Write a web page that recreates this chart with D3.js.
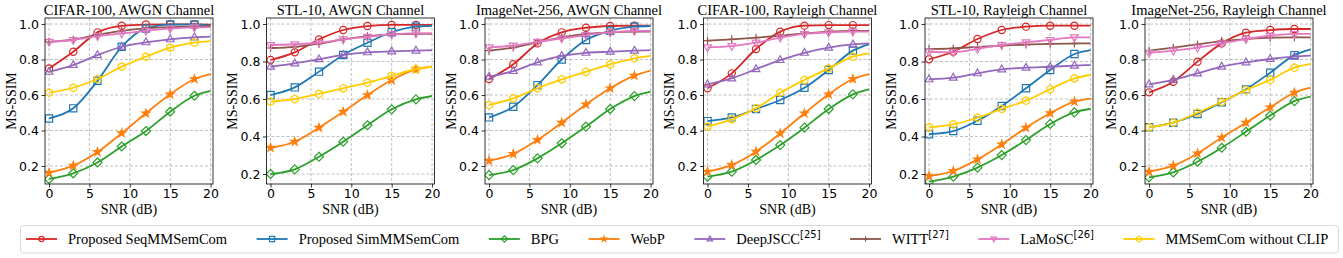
<!DOCTYPE html>
<html><head><meta charset="utf-8">
<script src="https://cdn.jsdelivr.net/npm/d3@7"></script>
<style>
html,body{margin:0;padding:0;background:#fff;}
svg{display:block;}
</style></head>
<body>
<svg id="chart" width="1343" height="258"></svg>
<script>
// ---------------- DATA ----------------
const snr = [0, 3, 6, 9, 12, 15, 18, 20];
const markerSnr = [0, 3, 6, 9, 12, 15, 18];
const panelTitles = ["CIFAR-100, AWGN Channel", "STL-10, AWGN Channel", "ImageNet-256, AWGN Channel",
                     "CIFAR-100, Rayleigh Channel", "STL-10, Rayleigh Channel", "ImageNet-256, Rayleigh Channel"];
const xTicks = [0, 5, 10, 15, 20];
const yTicks = [0.2, 0.4, 0.6, 0.8, 1.0];
const seriesNames = ["Proposed SeqMMSemCom", "Proposed SimMMSemCom", "BPG", "WebP",
                     "DeepJSCC", "WITT", "LaMoSC", "MMSemCom without CLIP"];
const seriesRefs = ["", "", "", "", "[25]", "[27]", "[26]", ""];

// one row per panel, values at snr points
const seqMMSemCom = [
  [0.750, 0.844, 0.953, 0.990, 0.997, 0.998, 0.998, 0.997],
  [0.808, 0.849, 0.918, 0.968, 0.989, 0.995, 0.995, 0.995],
  [0.690, 0.773, 0.891, 0.953, 0.979, 0.989, 0.991, 0.991],
  [0.638, 0.722, 0.859, 0.957, 0.991, 0.994, 0.994, 0.994],
  [0.812, 0.852, 0.920, 0.968, 0.986, 0.991, 0.991, 0.991],
  [0.615, 0.675, 0.788, 0.891, 0.951, 0.966, 0.972, 0.972]
];
const simMMSemCom = [
  [0.468, 0.525, 0.680, 0.872, 0.975, 0.997, 0.998, 0.990],
  [0.621, 0.662, 0.746, 0.835, 0.900, 0.956, 0.986, 0.990],
  [0.474, 0.534, 0.656, 0.800, 0.910, 0.962, 0.985, 0.989],
  [0.453, 0.474, 0.521, 0.572, 0.641, 0.741, 0.850, 0.887],
  [0.412, 0.429, 0.484, 0.563, 0.657, 0.755, 0.840, 0.861],
  [0.418, 0.444, 0.493, 0.559, 0.632, 0.726, 0.825, 0.857]
];
const bpg = [
  [0.127, 0.159, 0.220, 0.310, 0.397, 0.506, 0.596, 0.624],
  [0.200, 0.225, 0.292, 0.372, 0.460, 0.545, 0.598, 0.616],
  [0.149, 0.177, 0.243, 0.328, 0.422, 0.521, 0.594, 0.619],
  [0.140, 0.168, 0.234, 0.318, 0.416, 0.521, 0.604, 0.632],
  [0.159, 0.186, 0.234, 0.301, 0.381, 0.467, 0.529, 0.548],
  [0.136, 0.164, 0.224, 0.303, 0.393, 0.484, 0.566, 0.591]
];
const webp = [
  [0.162, 0.202, 0.279, 0.385, 0.497, 0.604, 0.690, 0.718],
  [0.340, 0.372, 0.447, 0.532, 0.621, 0.701, 0.758, 0.772],
  [0.230, 0.268, 0.347, 0.444, 0.547, 0.638, 0.709, 0.737],
  [0.168, 0.206, 0.281, 0.384, 0.497, 0.604, 0.690, 0.718],
  [0.189, 0.216, 0.278, 0.358, 0.447, 0.524, 0.586, 0.602],
  [0.168, 0.202, 0.271, 0.360, 0.444, 0.531, 0.613, 0.641]
];
const deepJSCC = [
  [0.731, 0.769, 0.825, 0.872, 0.897, 0.914, 0.925, 0.929],
  [0.772, 0.790, 0.812, 0.835, 0.849, 0.854, 0.858, 0.860],
  [0.703, 0.735, 0.784, 0.820, 0.838, 0.844, 0.850, 0.853],
  [0.660, 0.694, 0.746, 0.797, 0.838, 0.867, 0.885, 0.891],
  [0.705, 0.714, 0.737, 0.758, 0.767, 0.772, 0.778, 0.781],
  [0.660, 0.685, 0.722, 0.760, 0.784, 0.803, 0.816, 0.822]
];
const witt = [
  [0.900, 0.912, 0.940, 0.962, 0.976, 0.983, 0.986, 0.987],
  [0.872, 0.878, 0.895, 0.918, 0.935, 0.945, 0.948, 0.948],
  [0.850, 0.867, 0.897, 0.925, 0.944, 0.953, 0.957, 0.957],
  [0.906, 0.914, 0.923, 0.934, 0.947, 0.957, 0.961, 0.961],
  [0.866, 0.870, 0.878, 0.885, 0.890, 0.894, 0.896, 0.897],
  [0.850, 0.867, 0.885, 0.904, 0.915, 0.923, 0.925, 0.925]
];
const laMoSC = [
  [0.900, 0.910, 0.932, 0.947, 0.962, 0.974, 0.981, 0.983],
  [0.888, 0.892, 0.900, 0.918, 0.932, 0.945, 0.950, 0.950],
  [0.869, 0.878, 0.900, 0.919, 0.938, 0.953, 0.962, 0.962],
  [0.869, 0.876, 0.895, 0.923, 0.944, 0.953, 0.957, 0.957],
  [0.852, 0.849, 0.867, 0.888, 0.902, 0.915, 0.929, 0.929],
  [0.838, 0.850, 0.867, 0.891, 0.915, 0.934, 0.944, 0.944]
];
const mmNoClip = [
  [0.613, 0.641, 0.690, 0.760, 0.816, 0.867, 0.895, 0.904],
  [0.586, 0.600, 0.627, 0.657, 0.687, 0.723, 0.760, 0.772],
  [0.544, 0.581, 0.638, 0.688, 0.731, 0.773, 0.807, 0.820],
  [0.422, 0.463, 0.525, 0.613, 0.685, 0.750, 0.816, 0.835],
  [0.449, 0.465, 0.500, 0.547, 0.591, 0.652, 0.710, 0.728],
  [0.418, 0.444, 0.500, 0.562, 0.628, 0.685, 0.754, 0.775]
];
const allSeries = [seqMMSemCom, simMMSemCom, bpg, webp, deepJSCC, witt, laMoSC, mmNoClip];
const yDomains = [[0.0986, 1.034], [0.1467, 1.032], [0.0986, 1.034], [0.0986, 1.034], [0.1467, 1.032], [0.0986, 1.034]];

// ---------------- STYLE / LAYOUT ----------------
const colors = ["#d62728", "#1f77b4", "#2ca02c", "#ff7f0e", "#9467bd", "#8c564b", "#e377c2", "#ffcc00"];
const markers = ["circle", "square", "diamond", "star", "triUp", "plus", "triDown", "hexagon"];
const panelLefts = [45, 266.5, 485, 703.5, 925, 1145];
const plotW = 168, plotTop = 18, plotBottom = 184;
const serif = "'Liberation Serif','Times New Roman',Times,serif";
const sans = "'DejaVu Sans',sans-serif";

function markerPath(type, s) {
  switch (type) {
    case "circle": return d3.symbol(d3.symbolCircle, Math.PI * s * s)();
    case "square": return `M${-s},${-s}H${s}V${s}H${-s}Z`;
    case "diamond": { const d = s * 1.25; return `M0,${-d}L${d},0L0,${d}L${-d},0Z`; }
    case "triUp": { const r = s * 1.2; return `M0,${-r}L${r * 0.9},${r * 0.5 + 0.3}L${-r * 0.9},${r * 0.5 + 0.3}Z`; }
    case "triDown": { const r = s * 1.2; return `M0,${r}L${r * 0.9},${-r * 0.5 - 0.3}L${-r * 0.9},${-r * 0.5 - 0.3}Z`; }
    case "plus": { const r = s * 1.1; return `M${-r},0H${r}M0,${-r}V${r}`; }
    case "star": return d3.symbol(d3.symbolStar, s * s * 1.5)();
    case "hexagon": {
      let p = "";
      for (let i = 0; i < 6; i++) { const a = Math.PI / 3 * i - Math.PI / 2; p += (i ? "L" : "M") + (s * 1.1 * Math.cos(a)).toFixed(2) + "," + (s * 1.1 * Math.sin(a)).toFixed(2); }
      return p + "Z";
    }
  }
}
function markerFill(type, color) {
  return type === "star" ? color : "none";
}

const svg = d3.select("#chart");

panelTitles.forEach((title, p) => {
  const left = panelLefts[p];
  const x = d3.scaleLinear().domain([-0.5, 20.3]).range([left, left + plotW]);
  const y = d3.scaleLinear().domain(yDomains[p]).range([plotBottom, plotTop]);
  const g = svg.append("g");

  // grid
  g.selectAll(".gx").data(xTicks).join("line")
    .attr("x1", d => x(d)).attr("x2", d => x(d)).attr("y1", plotTop).attr("y2", plotBottom)
    .attr("stroke", "#b0b0b0").attr("stroke-width", 0.8).attr("stroke-dasharray", "3,2");
  g.selectAll(".gy").data(yTicks).join("line")
    .attr("x1", left).attr("x2", left + plotW).attr("y1", d => y(d)).attr("y2", d => y(d))
    .attr("stroke", "#b0b0b0").attr("stroke-width", 0.8).attr("stroke-dasharray", "3,2");

  // axes
  const xAxis = d3.axisBottom(x).tickValues(xTicks).tickSize(3.5).tickPadding(2).tickFormat(d3.format("d"));
  const yAxis = d3.axisLeft(y).tickValues(yTicks).tickSize(3.5).tickPadding(2.5).tickFormat(d3.format(".1f"));
  const gx = g.append("g").attr("transform", `translate(0,${plotBottom})`).call(xAxis);
  const gy = g.append("g").attr("transform", `translate(${left},0)`).call(yAxis);
  [gx, gy].forEach(a => {
    a.select(".domain").remove();
    a.selectAll("line").attr("stroke", "#000").attr("stroke-width", 0.8);
    a.selectAll("text").attr("font-family", sans).attr("font-size", 12.5).attr("fill", "#000");
  });

  // clip
  const clipId = "clip" + p;
  svg.append("clipPath").attr("id", clipId).append("rect")
    .attr("x", left).attr("y", plotTop).attr("width", plotW).attr("height", plotBottom - plotTop);

  const line = d3.line().x((d, i) => x(snr[i])).y(d => y(d)).curve(d3.curveMonotoneX);
  const plotG = g.append("g").attr("clip-path", `url(#${clipId})`);
  allSeries.forEach((ser, s) => {
    const vals = ser[p];
    const sg = plotG.append("g");
    sg.append("path").attr("d", line(vals)).attr("fill", "none")
      .attr("stroke", colors[s]).attr("stroke-width", 1.8);
    sg.selectAll("path.mk").data(markerSnr).join("path").attr("class", "mk")
      .attr("transform", (d, i) => `translate(${x(d)},${y(vals[i])})`)
      .attr("d", markerPath(markers[s], 3.6))
      .attr("fill", markerFill(markers[s], colors[s]))
      .attr("stroke", colors[s]).attr("stroke-width", 1.2);
  });

  // frame
  g.append("rect").attr("x", left).attr("y", plotTop).attr("width", plotW).attr("height", plotBottom - plotTop)
    .attr("fill", "none").attr("stroke", "#000").attr("stroke-width", 0.8);

  // title
  g.append("text").attr("x", left + plotW / 2).attr("y", 14.5).attr("text-anchor", "middle")
    .attr("font-family", serif).attr("font-size", 14.5).text(title);
  // x label
  g.append("text").attr("x", left + plotW / 2).attr("y", 213.5).attr("text-anchor", "middle")
    .attr("font-family", serif).attr("font-size", 14).text("SNR (dB)");
  // y label
  g.append("text").attr("transform", `translate(${left - 34},${(plotTop + plotBottom) / 2}) rotate(-90)`)
    .attr("text-anchor", "middle").attr("dominant-baseline", "central")
    .attr("font-family", serif).attr("font-size", 14).text("MS-SSIM");
});

// ---------------- LEGEND ----------------
const leg = svg.append("g");
leg.append("rect").attr("x", 20.5).attr("y", 225.5).attr("width", 1318).attr("height", 27.5)
  .attr("rx", 3).attr("fill", "#fff").attr("stroke", "#d9d9d9").attr("stroke-width", 1);
let cx = 26;
const ly = 239;
seriesNames.forEach((name, s) => {
  const eg = leg.append("g");
  eg.append("line").attr("x1", cx).attr("x2", cx + 31).attr("y1", ly).attr("y2", ly)
    .attr("stroke", colors[s]).attr("stroke-width", 1.8);
  eg.append("path").attr("transform", `translate(${cx + 15.5},${ly})`).attr("d", markerPath(markers[s], 2.6))
    .attr("fill", markerFill(markers[s], colors[s])).attr("stroke", colors[s]).attr("stroke-width", 1.1);
  const t = eg.append("text").attr("x", cx + 42).attr("y", ly + 5).attr("font-family", serif).attr("font-size", 14.5);
  t.append("tspan").text(name);
  if (seriesRefs[s]) {
    t.append("tspan").attr("font-family", sans).attr("font-size", 10).attr("dy", -6).text(seriesRefs[s]);
  }
  const w = t.node().getComputedTextLength();
  cx = cx + 42 + w + 29.5;
});
</script>
</body></html>
